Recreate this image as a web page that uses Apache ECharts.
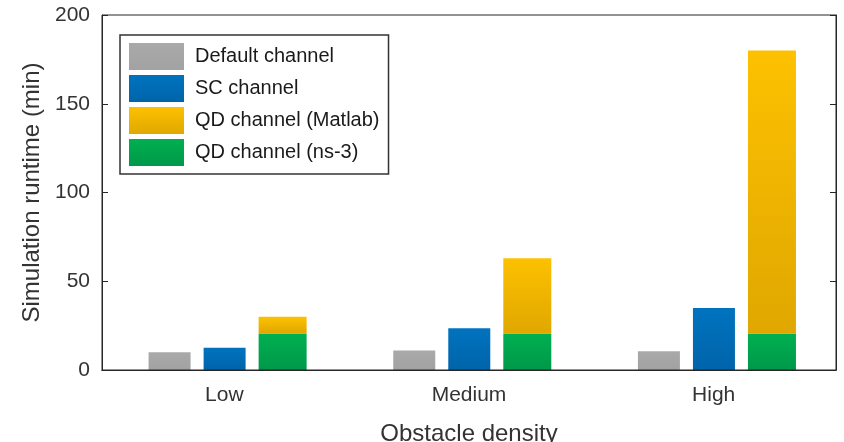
<!DOCTYPE html>
<html>
<head>
<meta charset="utf-8">
<script src="https://cdn.jsdelivr.net/npm/echarts@6/dist/echarts.min.js"></script>
<style>html,body{margin:0;padding:0;background:#fff;}#c{width:844px;height:442px;}</style>
</head>
<body>
<div id="c"></div>
<script>
var categories = ['Low', 'Medium', 'High'];
var defaultChannel = [10, 11, 10.5];
var scChannel = [12.5, 23.5, 35];
var qdNs3 = [20.5, 20.5, 20.5];
var qdMatlab = [9.5, 42.5, 159.5];
var yTicks = { min: 0, max: 200, interval: 50 };

var FONT = '"Liberation Sans", Arial, sans-serif';
var TXT = '#333333';
function grad(top, bottom) {
  return new echarts.graphic.LinearGradient(0, 0, 0, 1, [
    { offset: 0, color: top }, { offset: 1, color: bottom }
  ]);
}
var chart = echarts.init(document.getElementById('c'));
chart.setOption({
  animation: false,
  textStyle: { fontFamily: FONT },
  grid: { left: 102, right: 8, top: 15, bottom: 72, outerBoundsMode: 'none', containLabel: false,
          show: true, borderColor: '#262626', borderWidth: 1, backgroundColor: 'transparent', z: 5 },
  legend: {
    orient: 'vertical', left: 120, top: 35,
    itemWidth: 55, itemHeight: 27, itemGap: 5,
    padding: [8, 9, 8, 9],
    borderColor: '#333', borderWidth: 1.5, backgroundColor: '#fff',
    icon: 'rect',
    textStyle: { fontSize: 20, color: '#1a1a1a', fontFamily: FONT, padding: [0, 0, 0, 6] },
    data: ['Default channel', 'SC channel', 'QD channel (Matlab)', 'QD channel (ns-3)']
  },
  xAxis: [{
    type: 'category', data: categories, z: 6,
    axisLine: { lineStyle: { color: '#262626', width: 1 } },
    axisTick: { inside: true, alignWithLabel: true, length: 6, lineStyle: { color: '#262626' } },
    axisLabel: { fontSize: 21, color: TXT, margin: 15 },
    name: 'Obstacle density', nameLocation: 'middle', nameGap: 52,
    nameTextStyle: { fontSize: 24, color: TXT }
  }, {
    type: 'category', data: categories, position: 'top', z: 6,
    axisLine: { lineStyle: { color: '#262626', width: 1 } },
    axisTick: { inside: true, alignWithLabel: true, length: 6, lineStyle: { color: '#262626' } },
    axisLabel: { show: false }
  }],
  yAxis: [{
    type: 'value', min: yTicks.min, max: yTicks.max, interval: yTicks.interval, z: 6,
    axisLine: { show: true, lineStyle: { color: '#262626', width: 1 } },
    axisTick: { show: true, inside: true, length: 6, lineStyle: { color: '#262626' } },
    splitLine: { show: false },
    axisLabel: { fontSize: 21, color: TXT, margin: 12 },
    name: 'Simulation runtime (min)', nameLocation: 'middle', nameGap: 56,
    nameTextStyle: { fontSize: 24, color: TXT }
  }, {
    type: 'value', min: yTicks.min, max: yTicks.max, interval: yTicks.interval, position: 'right', z: 6,
    axisLine: { show: true, lineStyle: { color: '#262626', width: 1 } },
    axisTick: { show: true, inside: true, length: 6, lineStyle: { color: '#262626' } },
    splitLine: { show: false },
    axisLabel: { show: false }
  }],
  series: [
    { name: 'spacer', type: 'bar', data: [null, null, null], barWidth: 5, barGap: '31%', silent: true },
    { name: 'Default channel', type: 'bar', data: defaultChannel, barWidth: 42, barGap: '31%',
      itemStyle: { color: grad('#a9a9a9', '#a2a2a2') } },
    { name: 'SC channel', type: 'bar', data: scChannel, barWidth: 42, barGap: '31%',
      itemStyle: { color: grad('#0073bf', '#0064aa') } },
    { name: 'QD channel (ns-3)', type: 'bar', stack: 'qd', data: qdNs3, barWidth: 48, barGap: '31%',
      itemStyle: { color: grad('#00b050', '#00984a') } },
    { name: 'QD channel (Matlab)', type: 'bar', stack: 'qd', data: qdMatlab, barWidth: 48, barGap: '31%',
      itemStyle: { color: grad('#fdc100', '#e0a700') } }
  ]
});
</script>
</body>
</html>
